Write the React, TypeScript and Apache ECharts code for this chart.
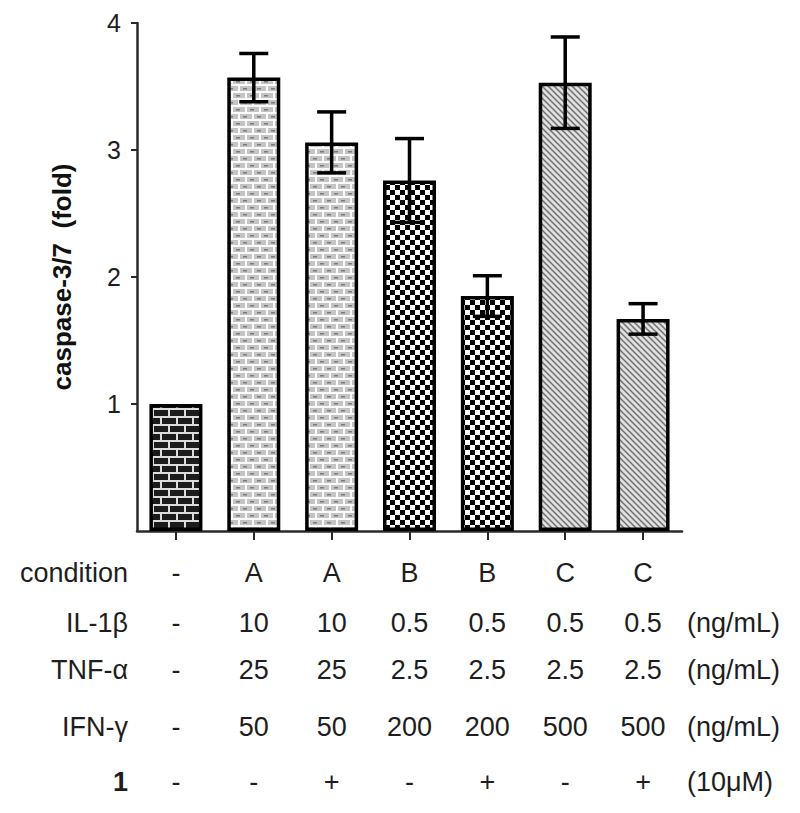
import React, { useEffect, useRef } from 'react';
import * as echarts from 'echarts';

// ---- data ----
const conditionRow = ['-', 'A', 'A', 'B', 'B', 'C', 'C'];
const il1bRow = ['-', '10', '10', '0.5', '0.5', '0.5', '0.5'];
const tnfaRow = ['-', '25', '25', '2.5', '2.5', '2.5', '2.5'];
const ifngRow = ['-', '50', '50', '200', '200', '500', '500'];
const compoundRow = ['-', '-', '+', '-', '+', '-', '+'];
const foldValues = [1.0, 3.57, 3.06, 2.76, 1.85, 3.53, 1.67];
const foldErrors = [0, 0.19, 0.24, 0.33, 0.16, 0.36, 0.12];
const yTickValues = [1, 2, 3, 4];
const rowLabels = ['condition', 'IL-1β', 'TNF-α', 'IFN-γ', '1'];
const unitLabels = ['', '(ng/mL)', '(ng/mL)', '(ng/mL)', '(10μM)'];
const yAxisTitle = 'caspase-3/7  (fold)';
const patternKeys = ['darkBrick', 'lightBrick', 'lightBrick', 'checker', 'checker', 'hatch', 'hatch'];

const FONT = "'Liberation Sans', Arial, sans-serif";
const TEXT_COLOR = '#1e1e1e';
const ROW_LINE_HEIGHTS = [50, 50, 44, 70, 40];
const LABEL_TOP = 548;

function makeCanvas(w: number, h: number, draw: (ctx: CanvasRenderingContext2D) => void) {
  const c = document.createElement('canvas');
  c.width = w;
  c.height = h;
  const ctx = c.getContext('2d') as CanvasRenderingContext2D;
  draw(ctx);
  return c;
}

function makePatterns() {
  const darkBrick = makeCanvas(16, 16, (ctx) => {
    ctx.fillStyle = '#1c1c1c';
    ctx.fillRect(0, 0, 16, 16);
    ctx.fillStyle = '#dcdcdc';
    ctx.fillRect(0, 0, 16, 2);
    ctx.fillRect(0, 8, 16, 2);
    ctx.fillRect(0, 2, 2, 6);
    ctx.fillRect(8, 10, 2, 6);
  });
  const lightBrick = makeCanvas(14, 14, (ctx) => {
    ctx.fillStyle = '#c4c4c4';
    ctx.fillRect(0, 0, 14, 14);
    ctx.fillStyle = '#fafafa';
    ctx.fillRect(0, 0, 14, 2);
    ctx.fillRect(0, 7, 14, 2);
    ctx.fillRect(0, 2, 2, 5);
    ctx.fillRect(7, 9, 2, 5);
    ctx.fillStyle = '#7a7a7a';
    ctx.fillRect(5, 4, 4, 1.5);
    ctx.fillRect(12, 11, 2, 1.5);
    ctx.fillRect(0, 11, 2, 1.5);
  });
  const checker = makeCanvas(10, 10, (ctx) => {
    ctx.fillStyle = '#ffffff';
    ctx.fillRect(0, 0, 10, 10);
    ctx.fillStyle = '#000000';
    ctx.fillRect(0, 0, 5, 5);
    ctx.fillRect(5, 5, 5, 5);
  });
  const hatch = makeCanvas(6, 6, (ctx) => {
    ctx.fillStyle = '#e0e0e0';
    ctx.fillRect(0, 0, 6, 6);
    ctx.strokeStyle = '#707070';
    ctx.lineWidth = 1.5;
    ctx.beginPath();
    ctx.moveTo(-1, -1);
    ctx.lineTo(7, 7);
    ctx.moveTo(-1, 5);
    ctx.lineTo(1, 7);
    ctx.moveTo(5, -1);
    ctx.lineTo(7, 1);
    ctx.stroke();
  });
  const all: Record<string, HTMLCanvasElement> = { darkBrick, lightBrick, checker, hatch };
  return all;
}

export default function App() {
  const ref = useRef<HTMLDivElement>(null);

  useEffect(() => {
    if (!ref.current) return;
    const chart = echarts.init(ref.current, null, { renderer: 'svg' });
    const patterns = makePatterns();

    const rowCenters: number[] = [];
    let acc = LABEL_TOP;
    ROW_LINE_HEIGHTS.forEach((lh) => {
      rowCenters.push(acc + lh / 2);
      acc += lh;
    });

    const richStyle = (lh: number) => ({
      lineHeight: lh,
      fontSize: 27,
      fontFamily: FONT,
      color: TEXT_COLOR,
    });

    const graphics: any[] = [];
    rowLabels.forEach((t, i) => {
      graphics.push({
        type: 'text',
        x: 128,
        y: rowCenters[i],
        style: {
          text: t,
          align: 'right',
          verticalAlign: 'middle',
          fontSize: 27,
          fontFamily: FONT,
          fontWeight: i === 4 ? 'bold' : 'normal',
          fill: TEXT_COLOR,
        },
      });
      if (unitLabels[i]) {
        graphics.push({
          type: 'text',
          x: 687,
          y: rowCenters[i],
          style: {
            text: unitLabels[i],
            align: 'left',
            verticalAlign: 'middle',
            fontSize: 27,
            fontFamily: FONT,
            fill: TEXT_COLOR,
          },
        });
      }
    });
    graphics.push({
      type: 'text',
      x: 62,
      y: 277,
      rotation: Math.PI / 2,
      style: {
        text: yAxisTitle,
        align: 'center',
        verticalAlign: 'middle',
        fontSize: 26,
        fontWeight: 'bold',
        fontFamily: FONT,
        fill: '#111',
      },
    });

    chart.setOption({
      animation: false,
      backgroundColor: '#ffffff',
      grid: { left: 137, right: 118, top: 23, bottom: 282, containLabel: false },
      xAxis: {
        type: 'category',
        data: conditionRow.map((_, i) => String(i)),
        axisLine: { show: true, lineStyle: { color: '#2a2a2a', width: 2.5 } },
        axisTick: { show: true, alignWithLabel: true, length: 9, lineStyle: { color: '#2a2a2a', width: 2 } },
        axisLabel: {
          margin: LABEL_TOP - 531,
          interval: 0,
          formatter: (_v: string, i: number) =>
            `{c|${conditionRow[i]}}\n{a|${il1bRow[i]}}\n{b|${tnfaRow[i]}}\n{d|${ifngRow[i]}}\n{e|${compoundRow[i]}}`,
          rich: {
            c: richStyle(ROW_LINE_HEIGHTS[0]),
            a: richStyle(ROW_LINE_HEIGHTS[1]),
            b: richStyle(ROW_LINE_HEIGHTS[2]),
            d: richStyle(ROW_LINE_HEIGHTS[3]),
            e: richStyle(ROW_LINE_HEIGHTS[4]),
          },
        },
        splitLine: { show: false },
      },
      yAxis: {
        type: 'value',
        min: 0,
        max: 4,
        interval: 1,
        axisLine: { show: true, lineStyle: { color: '#2a2a2a', width: 2.5 } },
        axisTick: { show: true, length: 6, customValues: yTickValues, lineStyle: { color: '#2a2a2a', width: 2 } },
        axisLabel: {
          customValues: yTickValues,
          margin: 16,
          fontSize: 25,
          fontFamily: FONT,
          color: TEXT_COLOR,
        },
        splitLine: { show: false },
      },
      series: [
        {
          type: 'bar',
          barWidth: 53,
          data: foldValues.map((v, i) => ({
            value: v,
            itemStyle: {
              color: {
                image: patterns[patternKeys[i]],
                repeat: 'repeat',
                imageWidth: patterns[patternKeys[i]].width,
                imageHeight: patterns[patternKeys[i]].height,
              },
              borderColor: '#000',
              borderWidth: 3.5,
            },
          })),
          z: 2,
        },
        {
          type: 'custom',
          z: 5,
          encode: { x: 0, y: [1, 2] },
          data: foldValues.map((v, i) => [i, v - foldErrors[i], v + foldErrors[i]]),
          renderItem: (_params: any, api: any) => {
            const x = api.value(0);
            const lo = api.value(1);
            const hi = api.value(2);
            if (hi - lo <= 0) return null;
            const top = api.coord([x, hi]);
            const bot = api.coord([x, lo]);
            const half = 14.5;
            const st = { stroke: '#000', lineWidth: 3.5 };
            return {
              type: 'group',
              children: [
                { type: 'line', shape: { x1: top[0], y1: top[1], x2: bot[0], y2: bot[1] }, style: st },
                { type: 'line', shape: { x1: top[0] - half, y1: top[1], x2: top[0] + half, y2: top[1] }, style: st },
                { type: 'line', shape: { x1: bot[0] - half, y1: bot[1], x2: bot[0] + half, y2: bot[1] }, style: st },
              ],
            };
          },
        },
      ],
      graphic: graphics,
    });

    return () => chart.dispose();
  }, []);

  return (
    <div
      ref={ref}
      style={{ position: 'absolute', left: 0, top: 0, width: 800, height: 813 }}
    />
  );
}
